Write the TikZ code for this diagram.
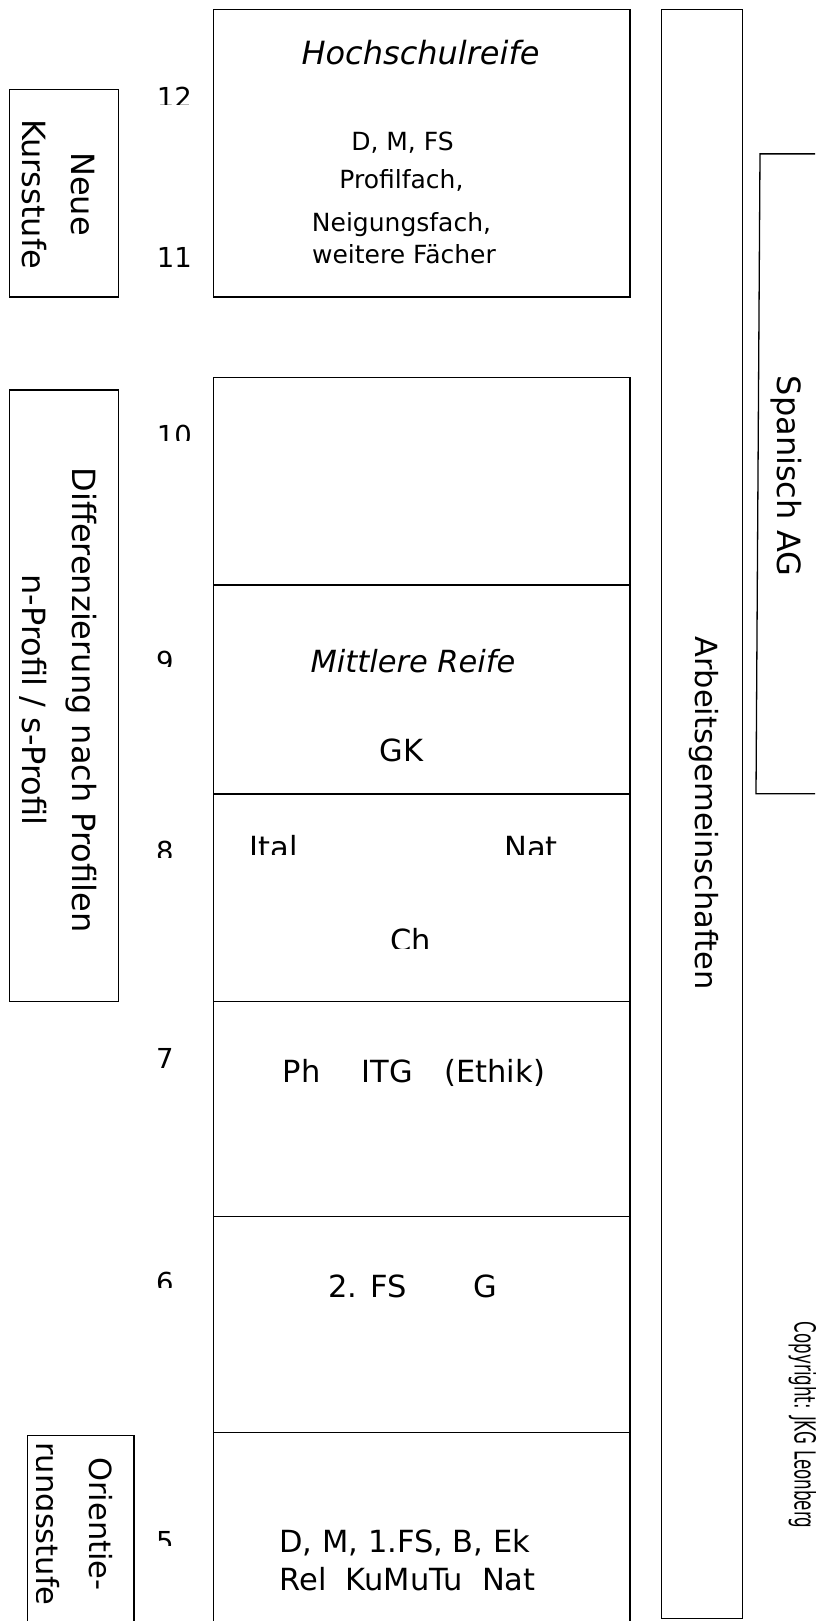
\documentclass[tikz,border=0pt]{standalone}
\usepackage{fontspec}
\setmainfont{DejaVu Sans}
\begin{document}
\begin{tikzpicture}[x=1pt,y=-1pt,
  frame/.style={line width=1.5pt},
  big/.style={font=\fontsize{30.5}{36}\selectfont, inner sep=0pt},
  large/.style={font=\fontsize{32}{38}\selectfont, inner sep=0pt},
  small/.style={font=\fontsize{25}{30}\selectfont, inner sep=0pt},
  num/.style={font=\fontsize{27.5}{33}\selectfont, inner sep=0pt, anchor=base west},
  vert/.style={big, rotate=-90, anchor=base},
  vertl/.style={large, rotate=-90, anchor=base}]
\useasboundingbox (0,0) rectangle (815,1621);
\clip (0,0) rectangle (815,1621);
% boxes
\draw[frame] (9.3,89.5) rectangle (118.3,297.2);
\draw[frame] (213.3,9.6) rectangle (630,297.2);
\draw[frame] (9.3,389.8) rectangle (118.3,1001.4);
\draw[frame] (213.3,1640) -- (213.3,377.7) -- (630,377.7) -- (630,1640);
\foreach \yy in {584.8,793.8,1001.4,1216.5,1432.3}
  \draw[frame] (213.3,\yy) -- (630,\yy);
\draw[frame] (27.7,1640) -- (27.7,1435.4) -- (134,1435.4) -- (134,1640);
\draw[frame] (661.7,9.6) rectangle (742.3,1618.3);
\draw[line width=1.3pt] (830,153.9) -- (760,153.9) -- (756,793.8) -- (830,793.8);
% top box texts
\node[large,anchor=base] (hr) at (420.5,65) {\itshape Hochschulreife};
\node[small,anchor=base] (dm) at (402.5,150.8) {D, M, FS};
\node[small,anchor=base] (pf) at (401.5,189) {Profilfach,};
\node[small,anchor=base] (nf) at (401.5,231.2) {Neigungsfach,};
\node[small,anchor=base] (wf) at (404,263.5) {weitere Fächer};
% lower column texts
\node[big,anchor=base] (mr) at (413,672.5) {\itshape Mittlere Reife};
\node[big,anchor=base] (gk) at (401.7,761) {GK};
\begin{scope}
  \clip (230,800) rectangle (600,854.5);
  \node[big,anchor=base west] (ital) at (249.3,858.5) {Ital};
  \node[big,anchor=base west] (nat8) at (504,858.5) {Nat};
\end{scope}
\begin{scope}
  \clip (230,900) rectangle (600,948);
  \node[big,anchor=base west] (ch) at (390,951.2) {Ch};
\end{scope}
\node[big,anchor=base west] (ph) at (282.7,1082) {Ph};
\node[big,anchor=base west] (itg) at (361.7,1082) {ITG};
\node[big,anchor=base west] (eth) at (444.3,1082) {(Ethik)};
\node[big,anchor=base west] (fs2) at (328.3,1297) {2. FS};
\node[big,anchor=base west] (g) at (473.3,1297) {G};
\node[big,anchor=base west] (d5) at (279.3,1552) {D, M, 1.FS, B, Ek};
\node[big,anchor=base west] (r5) at (279.3,1590) {Rel\ \ KuMuTu\ \ Nat};
% grade numbers
\begin{scope}\clip (140,70) rectangle (205,104.5);
  \node[num] (n12) at (156.7,107.8) {12};\end{scope}
\node[num] (n11) at (156.7,268) {11};
\begin{scope}\clip (140,400) rectangle (205,440.5);
  \node[num] (n10) at (156.7,445) {10};\end{scope}
\begin{scope}\clip (140,630) rectangle (205,666);
  \node[num] (n9) at (156,671) {9};\end{scope}
\begin{scope}\clip (140,820) rectangle (205,857);
  \node[num] (n8) at (156,861.3) {8};\end{scope}
\node[num] (n7) at (156,1068) {7};
\begin{scope}\clip (140,1250) rectangle (205,1287);
  \node[num] (n6) at (156,1292) {6};\end{scope}
\begin{scope}\clip (140,1510) rectangle (205,1545);
  \node[num] (n5) at (156,1551) {5};\end{scope}
% rotated texts
\node[vertl] (neue) at (71.5,194) {Neue};
\node[vertl] (kurs) at (22.5,194) {Kursstufe};
\node[vertl] (diff1) at (72.5,700) {Differenzierung nach Profilen};
\node[vertl] (diff2) at (23,700) {n-Profil / s-Profil};
\node[vert] (ori1) at (89,1524) {Orientie-};
\begin{scope}\clip (36.5,1440) rectangle (80,1621);
  \node[vert] (ori2) at (36.7,1524) {rungsstufe};\end{scope}
\node[vert] (ag) at (695.5,813) {Arbeitsgemeinschaften};
\node[vertl] (sp) at (777.5,476) {Spanisch AG};
\node[rotate=-90, anchor=base, inner sep=0pt, font=\fontsize{29}{34}\selectfont] (copy) at (794.5,1425) {\scalebox{0.575}[1]{Copyright: JKG Leonberg}};
\end{tikzpicture}
\end{document}
